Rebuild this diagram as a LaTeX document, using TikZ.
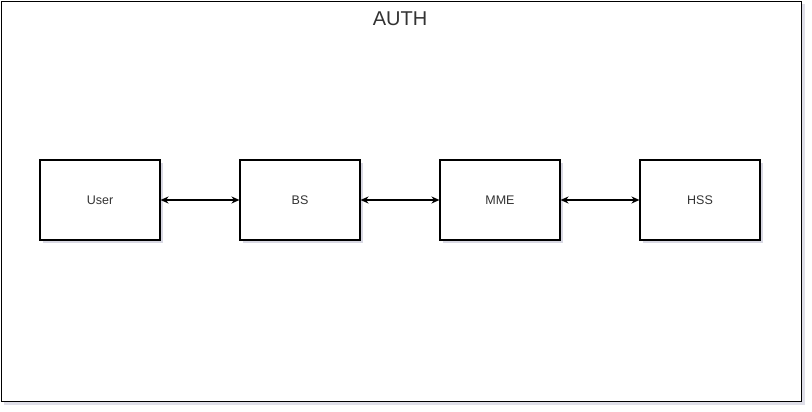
\documentclass[tikz,border=0pt]{standalone}
\usepackage{fontspec}
\setmainfont{Liberation Sans}
\usetikzlibrary{arrows.meta,shadows}
\definecolor{txt}{HTML}{333333}
\definecolor{shd}{HTML}{C8C8D8}
\begin{document}
\begin{tikzpicture}[x=1pt,y=-1pt,
  blk/.style={draw=black,line width=1.1pt,fill=white,minimum width=120pt,minimum height=80pt,inner sep=0pt,font=\fontsize{12.5}{15}\selectfont,text=txt,
    drop shadow={shadow xshift=2.5pt,shadow yshift=-2.5pt,fill=shd,opacity=0.7}},
  conn/.style={line width=1.2pt,{Stealth[length=8pt,width=7pt]}-{Stealth[length=8pt,width=7pt]}}]
\useasboundingbox (0,0) rectangle (812,412);
\fill[shd,opacity=0.6] (4,4) rectangle (805,405);
\node[draw=black,line width=1.1pt,fill=white,minimum width=800pt,minimum height=399.5pt,inner sep=0pt,anchor=north west] (frame) at (1,1) {};
\node[font=\fontsize{20}{24}\selectfont,text=txt] (title) at (400,19) {AUTH};
\node[blk] (user) at (100,200) {User};
\node[blk] (bs) at (300,200) {BS};
\node[blk] (mme) at (500,200) {MME};
\node[blk] (hss) at (700,200) {HSS};
\draw[conn] (user) -- (bs);
\draw[conn] (bs) -- (mme);
\draw[conn] (mme) -- (hss);
\end{tikzpicture}
\end{document}
